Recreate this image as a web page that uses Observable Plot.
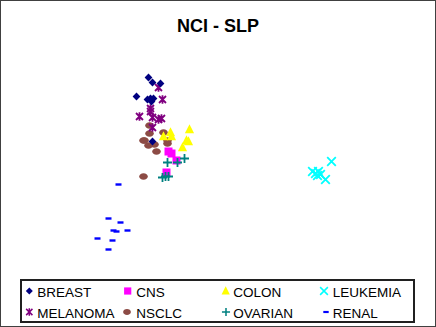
<!DOCTYPE html>
<html><head><meta charset="utf-8">
<script src="https://cdn.jsdelivr.net/npm/d3@7"></script>
<script src="https://cdn.jsdelivr.net/npm/@observablehq/plot@0.6"></script>
<style>
html,body{margin:0;padding:0;background:#fff;}
#wrap{position:relative;width:436px;height:327px;overflow:hidden;font-family:"Liberation Sans",Arial,sans-serif;background:#fff;}
#frame{position:absolute;left:0;top:0;width:436px;height:327px;box-sizing:border-box;border:1px solid #404040;pointer-events:none;}
#plot{position:absolute;left:0;top:40px;}
#over{position:absolute;left:0;top:0;pointer-events:none;}
</style>
</head><body>
<div id="wrap"><div id="plot"></div><svg id="over" width="436" height="327"></svg><div id="frame"></div></div>
<script>
// Data (arbitrary projection units)
const categories = ["BREAST","CNS","COLON","LEUKEMIA","MELANOMA","NSCLC","OVARIAN","RENAL"];
const BREAST   = [[-0.2,7.3],[0.2,6.8],[1.0,6.7],[-1.4,5.4],[-0.3,5.1],[0.0,5.2],[0.3,5.2],[0.1,4.9],[0.2,0.9]];
const CNS      = [[1.8,-0.1],[2.1,-0.3],[2.6,-1.0],[1.6,-2.2]];
const COLON    = [[2.0,1.8],[1.3,1.4],[2.1,1.4],[3.9,2.1],[3.2,0.3],[3.6,1.0],[3.8,0.9]];
const LEUKEMIA = [[18.1,-1.1],[16.2,-2.1],[16.5,-2.3],[16.8,-2.1],[16.7,-2.5],[17.0,-2.4],[17.5,-2.9]];
const MELANOMA = [[0.8,6.3],[1.2,5.1],[0.0,4.2],[0.0,3.9],[-1.1,3.4],[0.2,3.3],[0.8,3.1],[1.1,3.2],[0.2,2.3]];
const NSCLC    = [[-0.1,2.5],[-0.1,1.7],[1.3,1.8],[-0.7,1.0],[-0.6,1.0],[1.7,1.0],[1.7,0.7],[-0.2,0.5],[0.4,0.6],[0.6,-0.1],[-0.7,-2.6]];
const OVARIAN  = [[1.7,-1.2],[2.7,-1.2],[3.4,-0.8],[1.2,-2.7],[1.5,-2.6],[1.8,-2.6]];
const RENAL    = [[-3.2,-3.4],[-4.2,-6.8],[-3.0,-7.2],[-3.7,-8.0],[-3.4,-8.1],[-2.3,-8.0],[-5.3,-8.8],[-3.8,-9.0],[-4.2,-9.9]];
const seriesData = {BREAST, CNS, COLON, LEUKEMIA, MELANOMA, NSCLC, OVARIAN, RENAL};
const title = "NCI - SLP";

// Marker shapes (scale k)
function mk(fn){ return k => ({draw(c){ fn(c,k); }}); }
const shapes = {
  diamond: mk((c,k)=>{const r=3.9*k;c.moveTo(0,-r);c.lineTo(r,0);c.lineTo(0,r);c.lineTo(-r,0);c.closePath();}),
  square: mk((c,k)=>{const r=4*k;c.rect(-r,-r,2*r,2*r);}),
  triangle: mk((c,k)=>{c.moveTo(0,-5.2*k);c.lineTo(4.6*k,3.8*k);c.lineTo(-4.6*k,3.8*k);c.closePath();}),
  times: mk((c,k)=>{const r=4.3*k;c.moveTo(-r,-r);c.lineTo(r,r);c.moveTo(r,-r);c.lineTo(-r,r);}),
  asterisk: mk((c,k)=>{const r=4.3*k,d=3.5*k;c.moveTo(0,-r);c.lineTo(0,r);c.moveTo(-d,-d);c.lineTo(d,d);c.moveTo(d,-d);c.lineTo(-d,d);}),
  ellipse: mk((c,k)=>{const a=4.3*k,b=3.3*k,K=0.5523;c.moveTo(a,0);c.bezierCurveTo(a,b*K,a*K,b,0,b);c.bezierCurveTo(-a*K,b,-a,b*K,-a,0);c.bezierCurveTo(-a,-b*K,-a*K,-b,0,-b);c.bezierCurveTo(a*K,-b,a,-b*K,a,0);c.closePath();}),
  plus: mk((c,k)=>{const r=4.5*k;c.moveTo(-r,0);c.lineTo(r,0);c.moveTo(0,-r);c.lineTo(0,r);}),
  dash: mk((c,k)=>{c.rect(-3*k,-1.2*k,6*k,2.4*k);})
};
const styles = {
  BREAST:   {shape:"diamond",  fill:"#000080", stroke:"none"},
  CNS:      {shape:"square",   fill:"#FF00FF", stroke:"none"},
  COLON:    {shape:"triangle", fill:"#FFFF00", stroke:"none"},
  LEUKEMIA: {shape:"times",    fill:"none", stroke:"#00FFFF", sw:1.8},
  MELANOMA: {shape:"asterisk", fill:"none", stroke:"#800080", sw:1.8},
  NSCLC:    {shape:"ellipse",  fill:"#8C4B45", stroke:"none"},
  OVARIAN:  {shape:"plus",     fill:"none", stroke:"#008080", sw:1.8},
  RENAL:    {shape:"dash",     fill:"#0000FF", stroke:"none"}
};

const drawOrder = ["NSCLC","MELANOMA","BREAST","COLON","CNS","OVARIAN","LEUKEMIA","RENAL"];
const marks = drawOrder.map(cat => {
  const s = styles[cat];
  const pts = seriesData[cat].map(([x,y]) => ({x, y, cat}));
  return Plot.dot(pts, {x:"x", y:"y", symbol: shapes[s.shape](1), r: 3,
    fill: s.fill, stroke: s.stroke, strokeWidth: s.sw || 1, fillOpacity: 1});
});

const chart = Plot.plot({
  width: 436, height: 235,
  marginTop: 0, marginRight: 0, marginBottom: 0, marginLeft: 0,
  x: {domain: [-15, 28.6], axis: null},
  y: {domain: [-12.5, 11], axis: null},
  style: {background: "transparent", overflow: "visible"},
  marks
});
document.getElementById("plot").appendChild(chart);

// Title and legend overlay
const svg = d3.select("#over");
svg.append("text").attr("x", 218).attr("y", 31.5).attr("text-anchor","middle")
  .attr("font-family","Liberation Sans, Arial, sans-serif").attr("font-weight","bold")
  .attr("font-size", 18).attr("fill","#000").text(title);

svg.append("rect").attr("x",21).attr("y",280).attr("width",393).attr("height",42)
  .attr("fill","none").attr("stroke","#202020").attr("stroke-width",2);

const legendOrder = [["BREAST","CNS","COLON","LEUKEMIA"],["MELANOMA","NSCLC","OVARIAN","RENAL"]];
const markerX = [[29.3,127.7,225.7,324],[29.3,127,226,326]];
const textX = [37.3,136.3,233.3,332.7];
const rowBase = [296.5, 317.5];
const rowMid = [291, 312];
legendOrder.forEach((row, ri) => row.forEach((cat, ci) => {
  const s = styles[cat];
  svg.append("path").attr("transform", `translate(${markerX[ri][ci]},${rowMid[ri]})`)
    .attr("d", d3.symbol(shapes[s.shape](0.9), 30)())
    .attr("fill", s.fill).attr("stroke", s.stroke).attr("stroke-width", (s.sw||1)*0.85);
  svg.append("text").attr("x", textX[ci]).attr("y", rowBase[ri])
    .attr("font-family","Liberation Sans, Arial, sans-serif").attr("font-size", 13.5)
    .attr("fill","#000").text(cat);
}));
</script>
</body></html>
